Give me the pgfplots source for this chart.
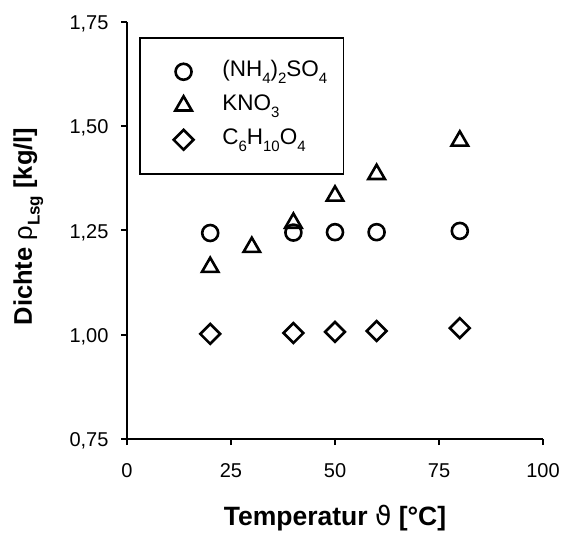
\documentclass[border=0pt]{standalone}
\usepackage{fontspec}
\setmainfont{Liberation Sans}
\newfontfamily\dejavu{DejaVu Sans}
\usepackage{pgfplots}
\pgfplotsset{compat=1.18}

% chemical subscript, smaller and lowered
\newcommand{\sub}[1]{\raisebox{-0.28em}{\fontsize{15}{15}\selectfont #1}}
\newcommand{\tl}{\fontsize{20}{20}\selectfont}

\begin{document}
\begin{tikzpicture}
\begin{axis}[
    scale only axis, width=416pt, height=417pt,
    xmin=0, xmax=100, ymin=0.75, ymax=1.75,
    axis lines=left, axis line style={-, line width=2pt},
    xtick={0,25,50,75,100}, ytick={0.75,1.00,1.25,1.50,1.75},
    xticklabels={{\tl 0},{\tl 25},{\tl 50},{\tl 75},{\tl 100}},
    yticklabels={{\tl 0,75},{\tl 1,00},{\tl 1,25},{\tl 1,50},{\tl 1,75}},
    tick align=outside, major tick length=6pt,
    tick style={line width=2pt, black},
    xticklabel style={yshift=-15pt},
    yticklabel style={xshift=-9pt, yshift=-2pt},
    xlabel={\bfseries Temperatur {\dejavu\mdseries ϑ} [°C]},
    ylabel={\bfseries Dichte {\mdseries ρ}\raisebox{-0.3em}{\fontsize{17}{17}\selectfont\bfseries Lsg} [kg/l]},
    every axis x label/.style={at={(rel axis cs:0.5,0)}, anchor=base, yshift=-86pt, font=\fontsize{26.5}{26.5}\selectfont},
    every axis y label/.style={at={(rel axis cs:0,0.5)}, xshift=-95pt, yshift=4pt, rotate=90, anchor=base, font=\fontsize{25.5}{25.5}\selectfont},
    legend cell align=left,
    legend style={at={(rel axis cs:0.029,0.964)}, anchor=north west,
        draw=black, line width=1.5pt, inner xsep=16pt, inner ysep=24pt,
        font=\fontsize{22.5}{22.5}\selectfont, row sep=14pt,
        nodes={inner sep=0pt, text height=15pt, text depth=5pt}},
    /tikz/every odd column/.append style={column sep=23pt},
    legend image code/.code={\path (0pt,-5pt) (42pt,5pt); \draw[#1] plot coordinates {(27pt,0pt)};},
    clip=false,
]
\addplot[only marks, mark=o, mark size=8pt, mark options={line width=2.6pt}] coordinates {
    (20,1.244)(40,1.245)(50,1.246)(60,1.246)(80,1.249)};
\addplot[only marks, mark=triangle, mark size=9.5pt, mark options={line width=2.6pt}] coordinates {
    (20,1.162)(30,1.210)(40,1.268)(50,1.333)(60,1.385)(80,1.465)};
\addplot[only marks, mark=square, mark size=7pt, mark options={line width=2.6pt, rotate=45}] coordinates {
    (20,1.002)(40,1.004)(50,1.007)(60,1.009)(80,1.016)};
\legend{(NH\sub{4})\sub{2}SO\sub{4}, KNO\sub{3}, C\sub{6}H\sub{10}O\sub{4}}
\end{axis}
\path ([shift={(-127pt,-96pt)}]current axis.south west) rectangle ([shift={(23pt,22pt)}]current axis.north east);
\end{tikzpicture}
\end{document}
